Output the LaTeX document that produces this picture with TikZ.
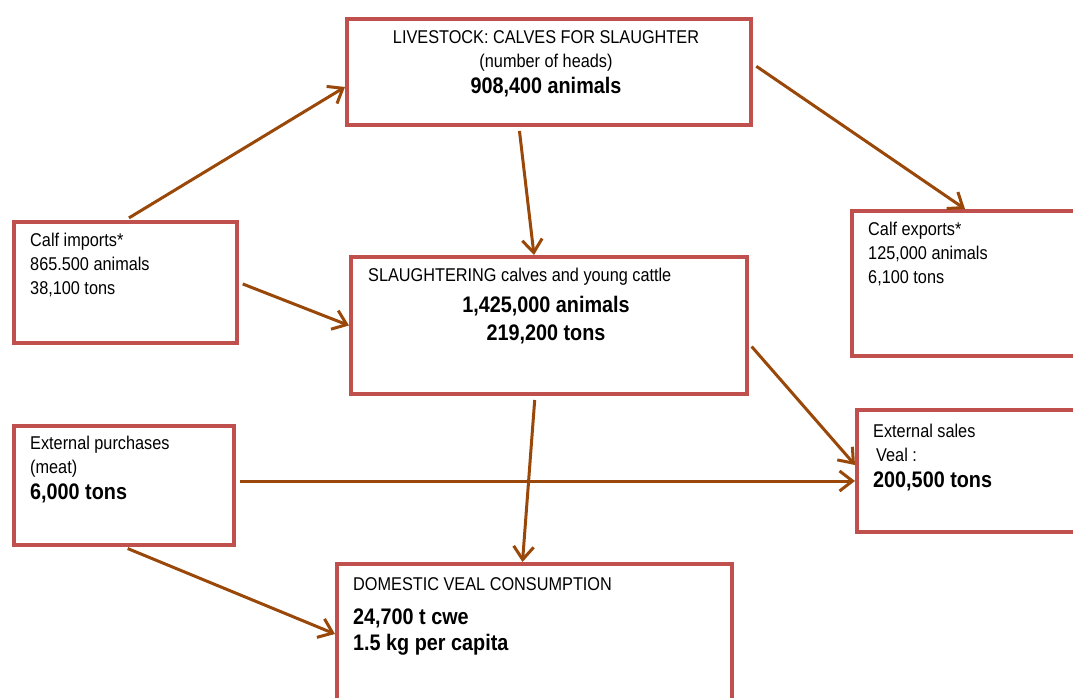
\documentclass[tikz,border=0pt]{standalone}
\usepackage{fontspec}
\setmainfont[FakeStretch=0.88]{Liberation Sans}
\usetikzlibrary{arrows.meta}
\definecolor{boxred}{RGB}{192,80,77}
\definecolor{flowbrown}{RGB}{153,72,9}
\newcommand\bignum[1]{{\fontsize{22.5}{28}\selectfont\bfseries #1}}

\begin{document}
\begin{tikzpicture}[x=1pt, y=-1pt,
    box/.style={draw=boxred, line width=4pt, fill=white, inner sep=0pt, anchor=north west},
    txt/.style={font=\fontsize{18.5}{24}\selectfont, inner sep=0pt, align=left, anchor=north west},
    flow/.style={draw=flowbrown, line width=3pt, shorten <=4pt, -{Straight Barb[length=13pt,width=20pt]}}]

    \useasboundingbox (0,0) rectangle (1073,698);
    \clip (0,0) rectangle (1073,698);

    % boxes
    \node[box, minimum width=404, minimum height=106] (live) at (345,17) {};
    \node[box, minimum width=223, minimum height=121] (imp) at (12,220) {};
    \node[box, minimum width=240, minimum height=145] (exp) at (850,209) {};
    \node[box, minimum width=396, minimum height=137] (slau) at (349,255) {};
    \node[box, minimum width=220, minimum height=119] (purch) at (12,424) {};
    \node[box, minimum width=235, minimum height=122] (sales) at (855,408) {};
    \node[box, minimum width=395, minimum height=148] (dom) at (335,562) {};

    % texts
    \node[txt, anchor=north, align=center] (livetxt) at (546,30)
        {LIVESTOCK: CALVES FOR SLAUGHTER\\(number of heads)\\[2pt]\bignum{908,400 animals}};
    \node[txt] (imptxt) at (30,233) {Calf imports*\\865.500 animals\\38,100 tons};
    \node[txt] (exptxt) at (868,222) {Calf exports*\\125,000 animals\\6,100 tons};
    \node[txt] (slautxt) at (368,268) {SLAUGHTERING calves and young cattle};
    \node[txt, anchor=north, align=center] (slaunum) at (546,296)
        {\bignum{1,425,000 animals}\\[4pt]\bignum{219,200 tons}};
    \node[txt] (purchtxt) at (30,436) {External purchases\\(meat)\\[2pt]\bignum{6,000 tons}};
    \node[txt] (salestxt) at (873,424) {External sales\\\hspace{3pt}Veal :\\[2pt]\bignum{200,500 tons}};
    \node[txt] (domtxt) at (353,577)
        {DOMESTIC VEAL CONSUMPTION\\[10pt]\bignum{24,700 t cwe}\\[2pt]\bignum{1.5 kg per capita}};

    % flows
    \draw[flow] (imp.north) -- ([yshift=-15]live.west);
    \draw[flow] ([yshift=8]live.east) -- ([xshift=-7]exp.north);
    \draw[flow] ([xshift=-30]live.south) -- ([xshift=-15]slau.north);
    \draw[flow] (imp.east) -- (slau.west);
    \draw[flow] ([yshift=-18]slau.east) -- ([yshift=6]sales.west);
    \draw[flow] ([yshift=4.5]purch.east) -- ([yshift=-10]sales.west);
    \draw[flow] ([xshift=-14]slau.south) -- ([xshift=-12]dom.north);
    \draw[flow] (purch.south) -- ([yshift=4]dom.west);
\end{tikzpicture}
\end{document}
